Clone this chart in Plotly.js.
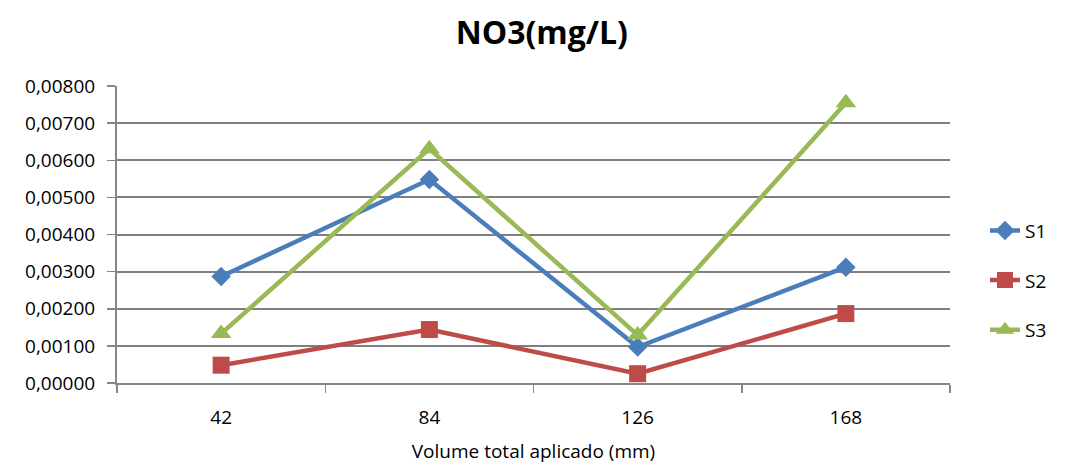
<!DOCTYPE html>
<html>
<head>
<meta charset="utf-8">
<script src="https://cdn.plot.ly/plotly-3.0.1.min.js"></script>
<style>html,body{margin:0;padding:0;background:#fff;}#chart{width:1077px;height:469px;}</style>
</head>
<body>
<div id="chart"></div>
<script>
const categories = ["42", "84", "126", "168"];
const s1 = [0.00287, 0.00548, 0.00097, 0.00312];
const s2 = [0.00048, 0.00144, 0.00025, 0.00187];
const s3 = [0.00133, 0.00631, 0.00129, 0.00755];
const seriesNames = ["S1", "S2", "S3"];
const yTickVals = [0, 0.001, 0.002, 0.003, 0.004, 0.005, 0.006, 0.007, 0.008];

const colors = ["#4A7EBB", "#BE4B48", "#98B954"];
const symbols = ["diamond", "square", "triangle-up"];
const sizes = [15, 17, 18];
const data = [s1, s2, s3].map((vals, i) => ({
  x: categories,
  y: vals,
  name: seriesNames[i],
  legendgroup: seriesNames[i],
  type: "scatter",
  mode: "lines+markers",
  line: {color: colors[i], width: 4.5},
  marker: {color: colors[i], symbol: symbols[i], size: sizes[i]}
}));

const layout = {
  width: 1077,
  height: 469,
  margin: {l: 117, r: 127, t: 86, b: 86},
  paper_bgcolor: "#ffffff",
  plot_bgcolor: "#ffffff",
  separators: ",.",
  font: {family: "Open Sans, DejaVu Sans, sans-serif", color: "#000000", size: 18},
  title: {
    text: "<b>NO3(mg/L)</b>",
    x: 0.51, xanchor: "center", xref: "paper",
    y: 0.93, yanchor: "middle",
    font: {size: 32, family: "Open Sans, sans-serif", color: "#000"}
  },
  xaxis: {
    type: "category",
    range: [-0.5, 3.5],
    tickson: "boundaries",
    ticks: "outside",
    ticklen: 8,
    tickcolor: "#868686",
    tickwidth: 1.5,
    ticklabelstandoff: 16,
    showline: true,
    linecolor: "#868686",
    linewidth: 2,
    showgrid: false,
    zeroline: false,
    tickfont: {size: 19},
    title: {text: "Volume total aplicado (mm)", font: {size: 19}, standoff: 16}
  },
  yaxis: {
    range: [0, 0.008],
    tickvals: yTickVals,
    tickformat: ".5f",
    ticks: "outside",
    ticklen: 8,
    tickcolor: "#868686",
    tickwidth: 1.5,
    ticklabelstandoff: 8,
    showline: true,
    linecolor: "#868686",
    linewidth: 2,
    showgrid: true,
    gridcolor: "#7f7f7f",
    gridwidth: 2,
    zeroline: false,
    tickfont: {size: 19}
  },
  legend: {
    x: 1.042, xanchor: "left",
    y: 0.345, yanchor: "middle",
    tracegroupgap: 22,
    font: {size: 19},
    bgcolor: "rgba(0,0,0,0)"
  },
  showlegend: true
};

Plotly.newPlot("chart", data, layout, {displayModeBar: false, staticPlot: true});
</script>
</body>
</html>
